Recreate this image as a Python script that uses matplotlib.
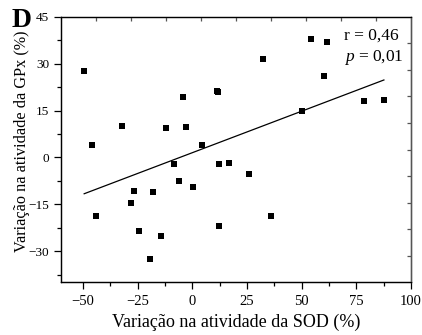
import numpy as np
import matplotlib
matplotlib.use('Agg')
import matplotlib.pyplot as plt

# variação (%) - SOD (x) vs GPx (y)
sod = [-49.4, -45.9, -32.2, -11.9, -4.4, -3.0, 4.3, 11.3, 11.8, 32.4,
       54.2, 61.5, 60.3, 50.1, 78.3, 87.6, -8.5, -26.6, -17.9, -28.2,
       -44.0, -24.5, -14.5, -19.4, -6.1, 0.3, 12.4, 16.9, 26.0, 36.2, 12.4]
gpx = [27.5, 4.0, 10.1, 9.5, 19.3, 9.8, 4.0, 21.4, 21.0, 31.5,
       37.9, 36.9, 26.1, 15.0, 18.0, 18.4, -2.1, -10.9, -11.0, -14.7,
       -18.9, -23.6, -25.2, -32.5, -7.5, -9.6, -2.1, -1.8, -5.2, -18.8, -21.9]
xticks = [-50, -25, 0, 25, 50, 75, 100]
yticks = [-30, -15, 0, 15, 30, 45]
stats_txt = ['r = 0,46', '$\\it{p}$ = 0,01']

plt.rcParams['font.family'] = ['Liberation Serif', 'DejaVu Serif']
plt.rcParams['mathtext.fontset'] = 'custom'
plt.rcParams['mathtext.it'] = 'Liberation Serif:italic'
plt.rcParams['mathtext.rm'] = 'Liberation Serif'

fig = plt.figure(figsize=(4.22, 3.35), dpi=100)
ax = fig.add_axes([0.1445, 0.157, 0.8295, 0.793])

x = np.array(sod)
y = np.array(gpx)
ax.scatter(x, y, s=22, c='black', marker='s', linewidths=0, zorder=3)

# linha de regressão
a, b = np.polyfit(x, y, 1)
xl = np.array([x.min(), x.max()])
ax.plot(xl, a * xl + b, color='black', lw=0.9)

ax.set_xlim(-60, 100)
ax.set_ylim(-40, 45)
ax.set_xticks(xticks)
ax.set_yticks(yticks)
ax.set_xticks(np.arange(-50, 100, 12.5), minor=True)
ax.set_yticks(np.arange(-37.5, 45, 7.5), minor=True)
ax.tick_params(which='major', direction='out', length=5, width=0.9, colors='black')
ax.tick_params(which='minor', direction='out', length=3, width=0.9)
ax.tick_params(axis='x', pad=4, labelsize=10.5)
ax.tick_params(axis='y', labelsize=9.5)
for s in ['left', 'bottom']:
    ax.spines[s].set_linewidth(0.9)
for s in ['top', 'right']:
    ax.spines[s].set_color('#555555')
    ax.spines[s].set_linewidth(1.0)

# ticks internos no topo e à direita (10 divisões)
top = ax.twiny()
top.set_xlim(-60, 100)
top.set_xticks(np.arange(-44, 100, 16))
top.tick_params(direction='in', length=3, width=0.9, labeltop=False, colors='#555555')
top.spines['top'].set_color('#555555')
right = ax.twinx()
right.set_ylim(-40, 45)
right.set_yticks(np.arange(-31.5, 45, 8.5))
right.tick_params(direction='in', length=3, width=0.9, labelright=False, colors='#555555')
right.spines['right'].set_color('#555555')
for t in [top, right]:
    t.tick_params(which='minor', length=0)

ax.set_xlabel('Variação na atividade da SOD (%)', fontsize=13, labelpad=4)
ax.set_ylabel('Variação na atividade da GPx (%)', fontsize=11.7)
ax.yaxis.set_label_coords(-0.088, 0.53)

ax.text(0.808, 0.96, stats_txt[0], transform=ax.transAxes, fontsize=12.5, va='top')
ax.text(0.808, 0.882, stats_txt[1], transform=ax.transAxes, fontsize=12.5, va='top')
fig.text(0.028, 0.975, 'D', fontsize=20, fontweight='bold', va='top')

fig.savefig('out.png', dpi=100)
